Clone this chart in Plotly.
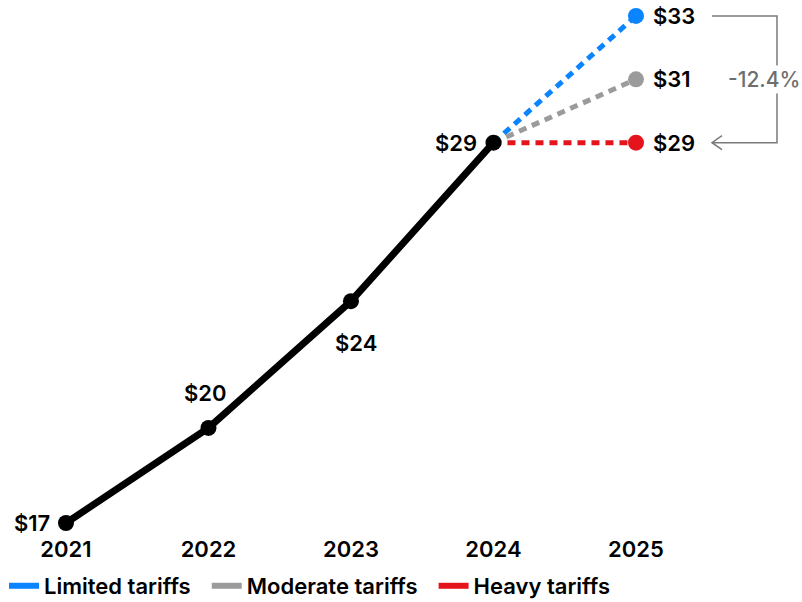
import plotly.graph_objects as go

# Historical values and 2025 tariff scenarios
years = [2021, 2022, 2023, 2024]
values = [17, 20, 24, 29]
scenario_year = 2025
scenario_names = ["Limited tariffs", "Moderate tariffs", "Heavy tariffs"]
scenario_values = [33, 31, 29]
scenario_colors = ["#0a84ff", "#9b9b9b", "#e5141c"]
gap_label = "-12.4%"
tick_years = [2021, 2022, 2023, 2024, 2025]

FONT = "Inter"
W, H = 802, 602

fig = go.Figure()

# Dashed scenario lines from the 2024 point
for name, v, c in zip(scenario_names, scenario_values, scenario_colors):
    fig.add_trace(go.Scatter(
        x=[years[-1], scenario_year], y=[values[-1], v],
        mode="lines", line=dict(color=c, width=5, dash="8px,6px"),
        showlegend=False, hoverinfo="skip"))

# Historical line
fig.add_trace(go.Scatter(
    x=years, y=values, mode="lines+markers",
    line=dict(color="black", width=7),
    marker=dict(color="black", size=16),
    showlegend=False, hoverinfo="skip"))

# Scenario end points
for name, v, c in zip(scenario_names, scenario_values, scenario_colors):
    fig.add_trace(go.Scatter(
        x=[scenario_year], y=[v], mode="markers",
        marker=dict(color=c, size=16),
        showlegend=False, hoverinfo="skip"))

# Legend entries (solid swatches); trailing no-break spaces widen the gaps
for name, c in zip(scenario_names, scenario_colors):
    fig.add_trace(go.Scatter(
        x=[None], y=[None], mode="lines", name=name + "\u00a0\u00a0",
        line=dict(color=c, width=6)))

label_font = dict(family=FONT, size=22, color="black", weight=600)

# Value labels on the historical line: (side, xshift, yshift)
hist_pos = [("left", -14, 0), ("center", -3, 35), ("center", 5, -42), ("left", -14, 0)]
for x, v, (side, xs, ys) in zip(years, values, hist_pos):
    fig.add_annotation(x=x, y=v, text=f"${v}", showarrow=False,
                       xanchor="right" if side == "left" else "center",
                       yanchor="middle", xshift=xs, yshift=ys,
                       font=label_font)

# Scenario value labels
for v in scenario_values:
    fig.add_annotation(x=scenario_year, y=v, text=f"${v}", showarrow=False,
                       xanchor="left", yanchor="middle", xshift=15,
                       font=label_font)

# Axis geometry (pixel mapping used for the bracket decoration)
x_lo, x_hi = 2020.537, 2026.165
y_lo, y_hi = 16.716, 33.503
mb = 70
plot_w, plot_h = W, H - mb


def dx_px(px):
    return px * (x_hi - x_lo) / plot_w


def dy_px(px):
    return px * (y_hi - y_lo) / plot_h


# Bracket comparing the top and bottom scenarios
top_v, bot_v = max(scenario_values), min(scenario_values)
bx0 = scenario_year + dx_px(76)
bx1 = scenario_year + dx_px(141)
gray = "#7a7a7a"
fig.add_shape(type="path",
              path=f"M {bx0} {top_v} L {bx1} {top_v} L {bx1} {bot_v} L {bx0} {bot_v}",
              line=dict(color=gray, width=1.5), xref="x", yref="y")
fig.add_shape(type="path",
              path=(f"M {bx0 + dx_px(10)} {bot_v + dy_px(7)} L {bx0} {bot_v} "
                    f"L {bx0 + dx_px(10)} {bot_v - dy_px(7)}"),
              line=dict(color=gray, width=1.5), xref="x", yref="y")
fig.add_annotation(x=bx1 - dx_px(13), y=(top_v + bot_v) / 2, text=gap_label,
                   showarrow=False, xanchor="center", yanchor="middle",
                   bgcolor="white", borderpad=1,
                   font=dict(family=FONT, size=21, color="#6e6e6e", weight=500))

fig.update_xaxes(range=[x_lo, x_hi], tickvals=tick_years,
                 ticktext=[str(t) for t in tick_years],
                 showgrid=False, zeroline=False, showline=False, ticks="",
                 ticklabelstandoff=2,
                 tickfont=dict(family=FONT, size=22, color="black", weight=600))
fig.update_yaxes(range=[y_lo, y_hi], visible=False, showgrid=False,
                 zeroline=False)

fig.update_layout(
    width=W, height=H,
    margin=dict(l=0, r=0, t=0, b=mb, autoexpand=False),
    plot_bgcolor="white", paper_bgcolor="white",
    hovermode=False,
    font=dict(family=FONT),
    legend=dict(orientation="h", x=0.005, xanchor="left", y=-0.062,
                yanchor="top", itemwidth=30,
                font=dict(family=FONT, size=22, color="black", weight=600),
                traceorder="normal", itemclick=False),
)

fig.write_html("out.html")
